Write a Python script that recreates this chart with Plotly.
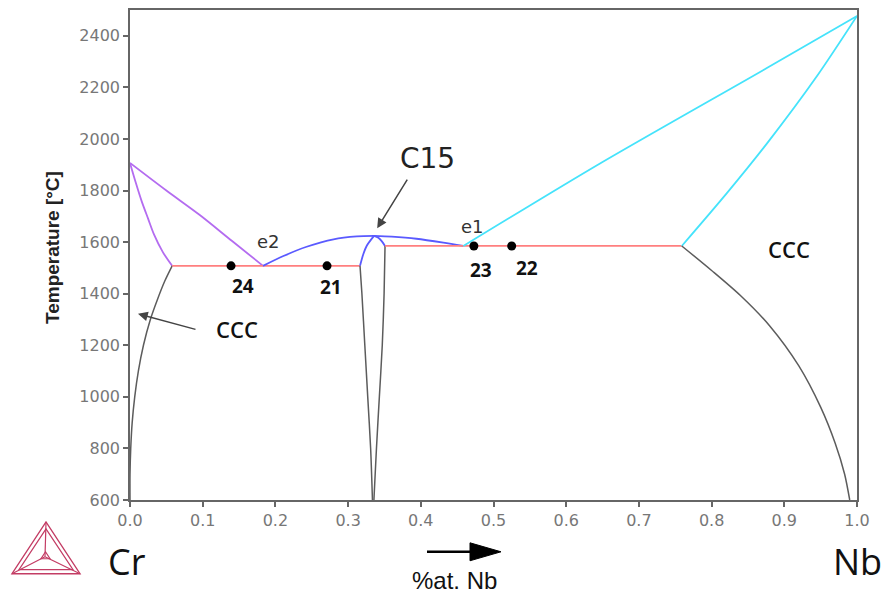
import plotly.graph_objects as go

# ---------------- data ----------------
cr_liq_x = [0.0, 0.05, 0.096, 0.14, 0.183]
cr_liq_t = [1907, 1800, 1705, 1605, 1508]

cr_sol_x = [0.0, 0.008, 0.016, 0.025, 0.033, 0.045, 0.058]
cr_sol_t = [1907, 1830, 1759, 1690, 1630, 1562, 1508]

cr_solv_x = [0.058, 0.048, 0.037, 0.028, 0.0185, 0.0115, 0.0065, 0.003, 0.001, 0.0, 0.0]
cr_solv_t = [1508, 1450, 1372, 1300, 1200, 1100, 1000, 900, 800, 700, 600]

eut2_x = [0.058, 0.3164]
eut2_t = [1508, 1508]

c15_liq_l_x = [0.183, 0.211, 0.243, 0.280, 0.312, 0.3356]
c15_liq_l_t = [1508, 1546, 1582, 1611, 1622, 1624]
c15_liq_r_x = [0.3356, 0.36, 0.394, 0.431, 0.4585]
c15_liq_r_t = [1624, 1621, 1613, 1598, 1585]

c15_sol_l_x = [0.3164, 0.3209, 0.3255, 0.3356]
c15_sol_l_t = [1508, 1553, 1585, 1624]
c15_sol_r_x = [0.3508, 0.3462, 0.3416, 0.3356]
c15_sol_r_t = [1585, 1604, 1617, 1624]

c15_solv_l_x = [0.3164, 0.319, 0.323, 0.327, 0.331, 0.3335]
c15_solv_l_t = [1508, 1400, 1200, 1000, 800, 600]
c15_solv_r_x = [0.3508, 0.3495, 0.347, 0.343, 0.339, 0.3355]
c15_solv_r_t = [1585, 1400, 1200, 1000, 800, 600]

eut1_x = [0.3508, 0.759]
eut1_t = [1585, 1585]

nb_liq_x = [0.4585, 0.6465, 0.876, 1.0]
nb_liq_t = [1585, 1905, 2275, 2477]

nb_sol_x = [0.759, 0.821, 0.876, 0.945, 1.0]
nb_sol_t = [1585, 1790, 1982, 2244, 2477]

nb_solv_x = [0.759, 0.80, 0.84, 0.88, 0.92, 0.95, 0.97, 0.983, 0.990]
nb_solv_t = [1585, 1490, 1392, 1275, 1120, 960, 820, 700, 600]

sample_x = [0.139, 0.271, 0.473, 0.525]
sample_t = [1508, 1508, 1585, 1585]
sample_lbl = ["24", "21", "23", "22"]

y_ticks = [600, 800, 1000, 1200, 1400, 1600, 1800, 2000, 2200, 2400]
x_ticks = [0.0, 0.1, 0.2, 0.3, 0.4, 0.5, 0.6, 0.7, 0.8, 0.9, 1.0]

# ---------------- styles ----------------
PURPLE = "#b46cf0"
BLUE = "#5a5aff"
CYAN = "#45e3fb"
RED = "#ff7f7f"
GRAY = "#5c5c5c"

# label offsets (pixels) for sample numbers
lbl_dx = [12, 4, 7, 15]
lbl_dy = [-20, -21, -24, -22]

W, H = 883, 595
ML, MR, MT, MB = 130, 26, 8, 95
PW, PH = W - ML - MR, H - MT - MB


def px(x):
    return (x - ML) / PW


def py(y):
    return (H - MB - y) / PH


fig = go.Figure()


def line(xs, ts, color, width=1.8):
    fig.add_trace(go.Scatter(x=xs, y=ts, mode="lines",
                             line=dict(color=color, width=width, shape="spline", smoothing=0.8),
                             hoverinfo="skip", showlegend=False))


line(cr_liq_x, cr_liq_t, PURPLE)
line(cr_sol_x, cr_sol_t, PURPLE)
line(cr_solv_x, cr_solv_t, GRAY, 1.5)
line(eut2_x, eut2_t, RED)
line(c15_liq_l_x, c15_liq_l_t, BLUE)
line(c15_liq_r_x, c15_liq_r_t, BLUE)
line(c15_sol_l_x, c15_sol_l_t, BLUE)
line(c15_sol_r_x, c15_sol_r_t, BLUE)
line(c15_solv_l_x, c15_solv_l_t, GRAY, 1.5)
line(c15_solv_r_x, c15_solv_r_t, GRAY, 1.5)
line(eut1_x, eut1_t, RED)
line(nb_liq_x, nb_liq_t, CYAN)
line(nb_sol_x, nb_sol_t, CYAN)
line(nb_solv_x, nb_solv_t, GRAY, 1.5)

fig.add_trace(go.Scatter(x=sample_x, y=sample_t, mode="markers",
                         marker=dict(color="black", size=9),
                         hoverinfo="skip", showlegend=False))

C = dict(xanchor="center", yanchor="middle", showarrow=False)
annotations = []
for sx, st, lb, dx, dy in zip(sample_x, sample_t, sample_lbl, lbl_dx, lbl_dy):
    annotations.append(dict(x=sx, y=st, xref="x", yref="y", text=lb,
                            xshift=dx, yshift=dy, **C,
                            font=dict(family="Open Sans", size=19, color="#111", weight="bold")))

annotations += [
    dict(x=0.183, y=1508, text="e2", yshift=24, xshift=5, **C,
         font=dict(family="DejaVu Sans", size=18, color="#333")),
    dict(x=0.4585, y=1585, text="e1", yshift=19, xshift=9, **C,
         font=dict(family="DejaVu Sans", size=18, color="#333")),
    dict(x=0.409, y=1925, text="C15", **C,
         font=dict(family="DejaVu Sans", size=28, color="#222")),
    dict(x=0.906, y=1575, text="CCC", **C,
         font=dict(family="Open Sans", size=22, color="#111", weight=600)),
    dict(x=0.147, y=1263, text="CCC", **C,
         font=dict(family="Open Sans", size=22, color="#111", weight=600)),
    # arrows
    dict(x=0.340, y=1654, ax=31, ay=-50, text="", showarrow=True,
         arrowhead=2, arrowsize=1.3, arrowwidth=1.5, arrowcolor="#444"),
    dict(x=0.011, y=1322, ax=59, ay=16, text="", showarrow=True,
         arrowhead=2, arrowsize=1.3, arrowwidth=1.5, arrowcolor="#444"),
    # y title
    dict(x=px(52), y=py(247), xref="paper", yref="paper", text="Temperature [°C]",
         textangle=-90, **C,
         font=dict(family="Liberation Sans", size=19, color="#222", weight="bold")),
    # bottom labels
    dict(x=px(127), y=py(562), xref="paper", yref="paper", text="Cr", **C,
         font=dict(family="Open Sans", size=36, color="#111")),
    dict(x=px(857), y=py(562), xref="paper", yref="paper", text="Nb", **C,
         font=dict(family="Open Sans", size=36, color="#111")),
    dict(x=px(454), y=py(581), xref="paper", yref="paper", text="%at. Nb", **C,
         font=dict(family="Liberation Sans", size=24, color="#111")),
]

shapes = []
shapes.append(dict(type="line", xref="paper", yref="paper",
                   x0=px(427), y0=py(552), x1=px(475), y1=py(552),
                   line=dict(color="black", width=2.5)))
shapes.append(dict(type="path", xref="paper", yref="paper",
                   path=f"M {px(470)},{py(543)} L {px(501)},{py(552)} L {px(470)},{py(561)} Z",
                   fillcolor="black", line=dict(color="black", width=1)))

# Thermo-Calc logo
LOGO = "#c33c64"


def tri(pts):
    p = " L ".join(f"{px(a)},{py(b)}" for a, b in pts)
    return f"M {p} Z"


shapes.append(dict(type="path", xref="paper", yref="paper",
                   path=tri([(12, 574), (80, 574), (46, 522)]),
                   line=dict(color=LOGO, width=1.4)))
shapes.append(dict(type="path", xref="paper", yref="paper",
                   path=tri([(19, 570), (73, 570), (46, 529)]),
                   line=dict(color=LOGO, width=1.2)))
cx, cy = 45, 557
for vx, vy in [(46, 522), (12, 574), (80, 574)]:
    shapes.append(dict(type="line", xref="paper", yref="paper",
                       x0=px(cx), y0=py(cy), x1=px(vx), y1=py(vy),
                       line=dict(color=LOGO, width=1.2)))
shapes.append(dict(type="path", xref="paper", yref="paper",
                   path=tri([(41, 559), (50, 559), (45.5, 552)]),
                   line=dict(color=LOGO, width=1.2)))

fig.update_layout(
    width=W, height=H,
    margin=dict(l=ML, r=MR, t=MT, b=MB),
    paper_bgcolor="white", plot_bgcolor="white",
    annotations=annotations, shapes=shapes,
    xaxis=dict(range=[0, 1], tickvals=x_ticks, ticktext=[f"{v:.1f}" for v in x_ticks],
               showgrid=False, zeroline=False, showline=True, linecolor="#666", linewidth=1.5,
               mirror=True, ticks="outside", ticklen=5, tickcolor="#666", tickwidth=1.5,
               tickfont=dict(family="DejaVu Sans", size=16, color="#777")),
    yaxis=dict(range=[600, 2500], tickvals=y_ticks,
               showgrid=False, zeroline=False, showline=True, linecolor="#666", linewidth=1.5,
               mirror=True, ticks="outside", ticklen=5, tickcolor="#666", tickwidth=1.5,
               tickfont=dict(family="DejaVu Sans", size=16, color="#777")),
)

fig.write_html("out.html")
